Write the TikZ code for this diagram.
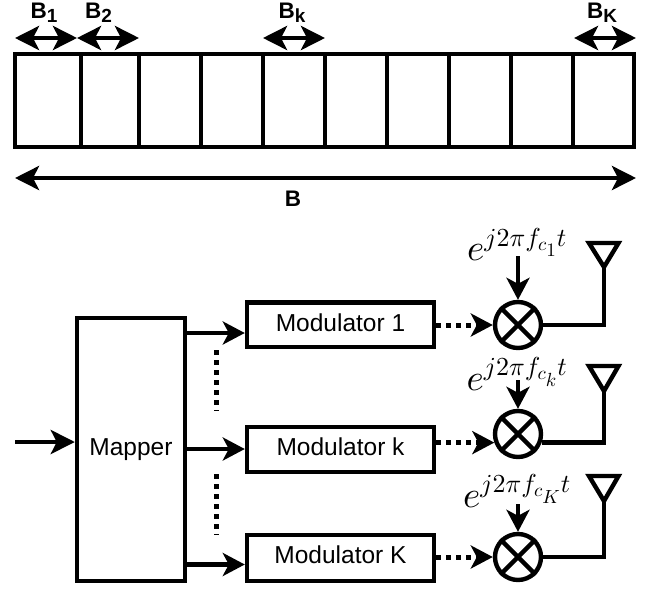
\RequirePackage{fix-cm}
\documentclass[tikz,border=0pt]{standalone}
\usepackage[no-math]{fontspec}
\newfontfamily\lab{Liberation Sans}
\usetikzlibrary{arrows.meta}
\DeclareFontShape{OML}{cmm}{m}{it}{<->cmmi10}{}
\DeclareFontShape{OT1}{cmr}{m}{n}{<->cmr10}{}
\DeclareMathSizes{37}{37}{26}{19}
\tikzset{
  x=1pt,y=-1pt,
  wire/.style={line width=4.4pt,line join=miter},
  big/.style={wire,-{Stealth[length=24pt,width=24pt,inset=6pt]}},
  both/.style={wire,{Stealth[length=24pt,width=24pt,inset=6pt]}-{Stealth[length=24pt,width=24pt,inset=6pt]}},
  arr/.style={wire,-{Stealth[length=22pt,width=23pt,inset=6pt]}},
  dots/.style={line width=5pt,dash pattern=on 5pt off 5pt},
  box/.style={draw,line width=4.4pt,anchor=center,inner sep=0pt,font=\lab\fontsize{24.5}{28}\selectfont},
  cell/.style={draw,line width=4.4pt,inner sep=0pt,minimum height=93pt},
  mixer/.style={draw,circle,line width=4.4pt,inner sep=0pt,minimum size=46pt},
  blab/.style={inner sep=0pt,font=\lab\bfseries\fontsize{22.5}{24}\selectfont},
  mathlab/.style={inner sep=0pt,anchor=base,font=\fontsize{37}{40}\selectfont},
}
\newcommand{\subs}[1]{\raisebox{-4pt}{\fontsize{19}{20}\selectfont #1}}
\begin{document}
\begin{tikzpicture}
\useasboundingbox (0,0) rectangle (649,590);
% band cells
\foreach \n/\a/\b in {1/15/81,2/81/139,3/139/201,4/201/263,5/263/325,6/325/387,7/387/449,8/449/511,9/511/573,10/573/634}
  \node[cell,minimum width={(\b-\a)*1pt}] (c\n) at ({(\a+\b)/2},100.2) {};
% band arrows
\foreach \n/\a/\b in {1/15/77,2/77/139,k/263/325,K/574/636}{
  \coordinate (bl\n) at (\a,38);
  \coordinate (br\n) at (\b,38);
  \draw[both] (bl\n) -- (br\n);
}
\node[blab,anchor=base west] (t1) at (30.5,18.5) {B\subs{1}};
\node[blab,anchor=base west] (t2) at (85,18.5) {B\subs{2}};
\node[blab,anchor=base west] (tk) at (278.5,18.5) {B\subs{k}};
\node[blab,anchor=base west] (tK) at (587,18.5) {B\subs{K}};
\coordinate (bigl) at (15,178);
\coordinate (bigr) at (636,178);
\draw[both] (bigl) -- (bigr);
\node[blab,anchor=base] (tB) at (293,206) {B};
% blocks
\node[box,minimum width=108pt,minimum height=263pt] (map) at (131,449.5) {Mapper};
\node[box,minimum width=187pt,minimum height=44.5pt,text height=17.6pt,text depth=5pt] (m1) at (340.5,324.75) {Modulator 1};
\node[box,minimum width=187pt,minimum height=45pt,text height=17.6pt,text depth=6.6pt] (mk) at (340.5,449.5) {Modulator k};
\node[box,minimum width=187pt,minimum height=46pt,text height=17.6pt,text depth=7pt] (mK) at (340.5,558) {Modulator K};
% input
\coordinate (in) at (15,442);
\draw[big] (in) -- (map.west |- in);
% mapper outputs
\foreach \s/\y in {1/333,k/449,K/564.5}{
  \coordinate (o\s) at (185,\y);
  \draw[arr] (o\s) -- (m\s.west |- o\s);
}
% dotted verticals
\coordinate (d1a) at (216,350);\coordinate (d1b) at (216,411);
\coordinate (d2a) at (216,474);\coordinate (d2b) at (216,535);
\draw[dots] (d1a) -- (d1b);
\draw[dots] (d2a) -- (d2b);
% mixers
\node[mixer] (x1) at (518,325) {};
\node[mixer] (xk) at (518,434) {};
\node[mixer] (xK) at (518,557) {};
\foreach \s in {1,k,K}{
  \draw[wire] (x\s.north west) -- (x\s.south east);
  \draw[wire] (x\s.north east) -- (x\s.south west);
}
% dotted arrows
\draw[arr,line width=5pt,dash pattern=on 5pt off 5pt] (m1.east |- x1.west) -- (x1.west);
\draw[arr,line width=5pt,dash pattern=on 5pt off 5pt] (mk.east |- xk.200) -- (xk.200);
\draw[arr,line width=5pt,dash pattern=on 5pt off 5pt] (mK.east |- xK.west) -- (xK.west);
% labels
\node[mathlab] (e1) at (517,260) {$e^{j2\pi f_{c_1}t}$};
\node[mathlab] (ek) at (517,390) {$e^{j2\pi f_{c_k}t}$};
\node[mathlab] (eK) at (517,507) {$e^{j2\pi f_{c_K}t}$};
% carriers
\coordinate (s1) at (518,256);\coordinate (sk) at (518,380);\coordinate (sK) at (518,504);
\foreach \s in {1,k,K}\draw[arr] (s\s) -- (x\s.north);
% antennas
\foreach \s/\t/\y/\o in {1/243/267/x1.east,k/366/391/xk.340,K/476/501/xK.east}{
  \coordinate (ta\s) at (589,\t);
  \coordinate (tb\s) at (618.5,\t);
  \coordinate (tip\s) at (604,\y);
  \draw[wire] (ta\s) -- (tb\s) -- (tip\s) -- cycle;
  \draw[wire] (tip\s) -- (tip\s |- \o) -- (\o);
}
\end{tikzpicture}
\end{document}
